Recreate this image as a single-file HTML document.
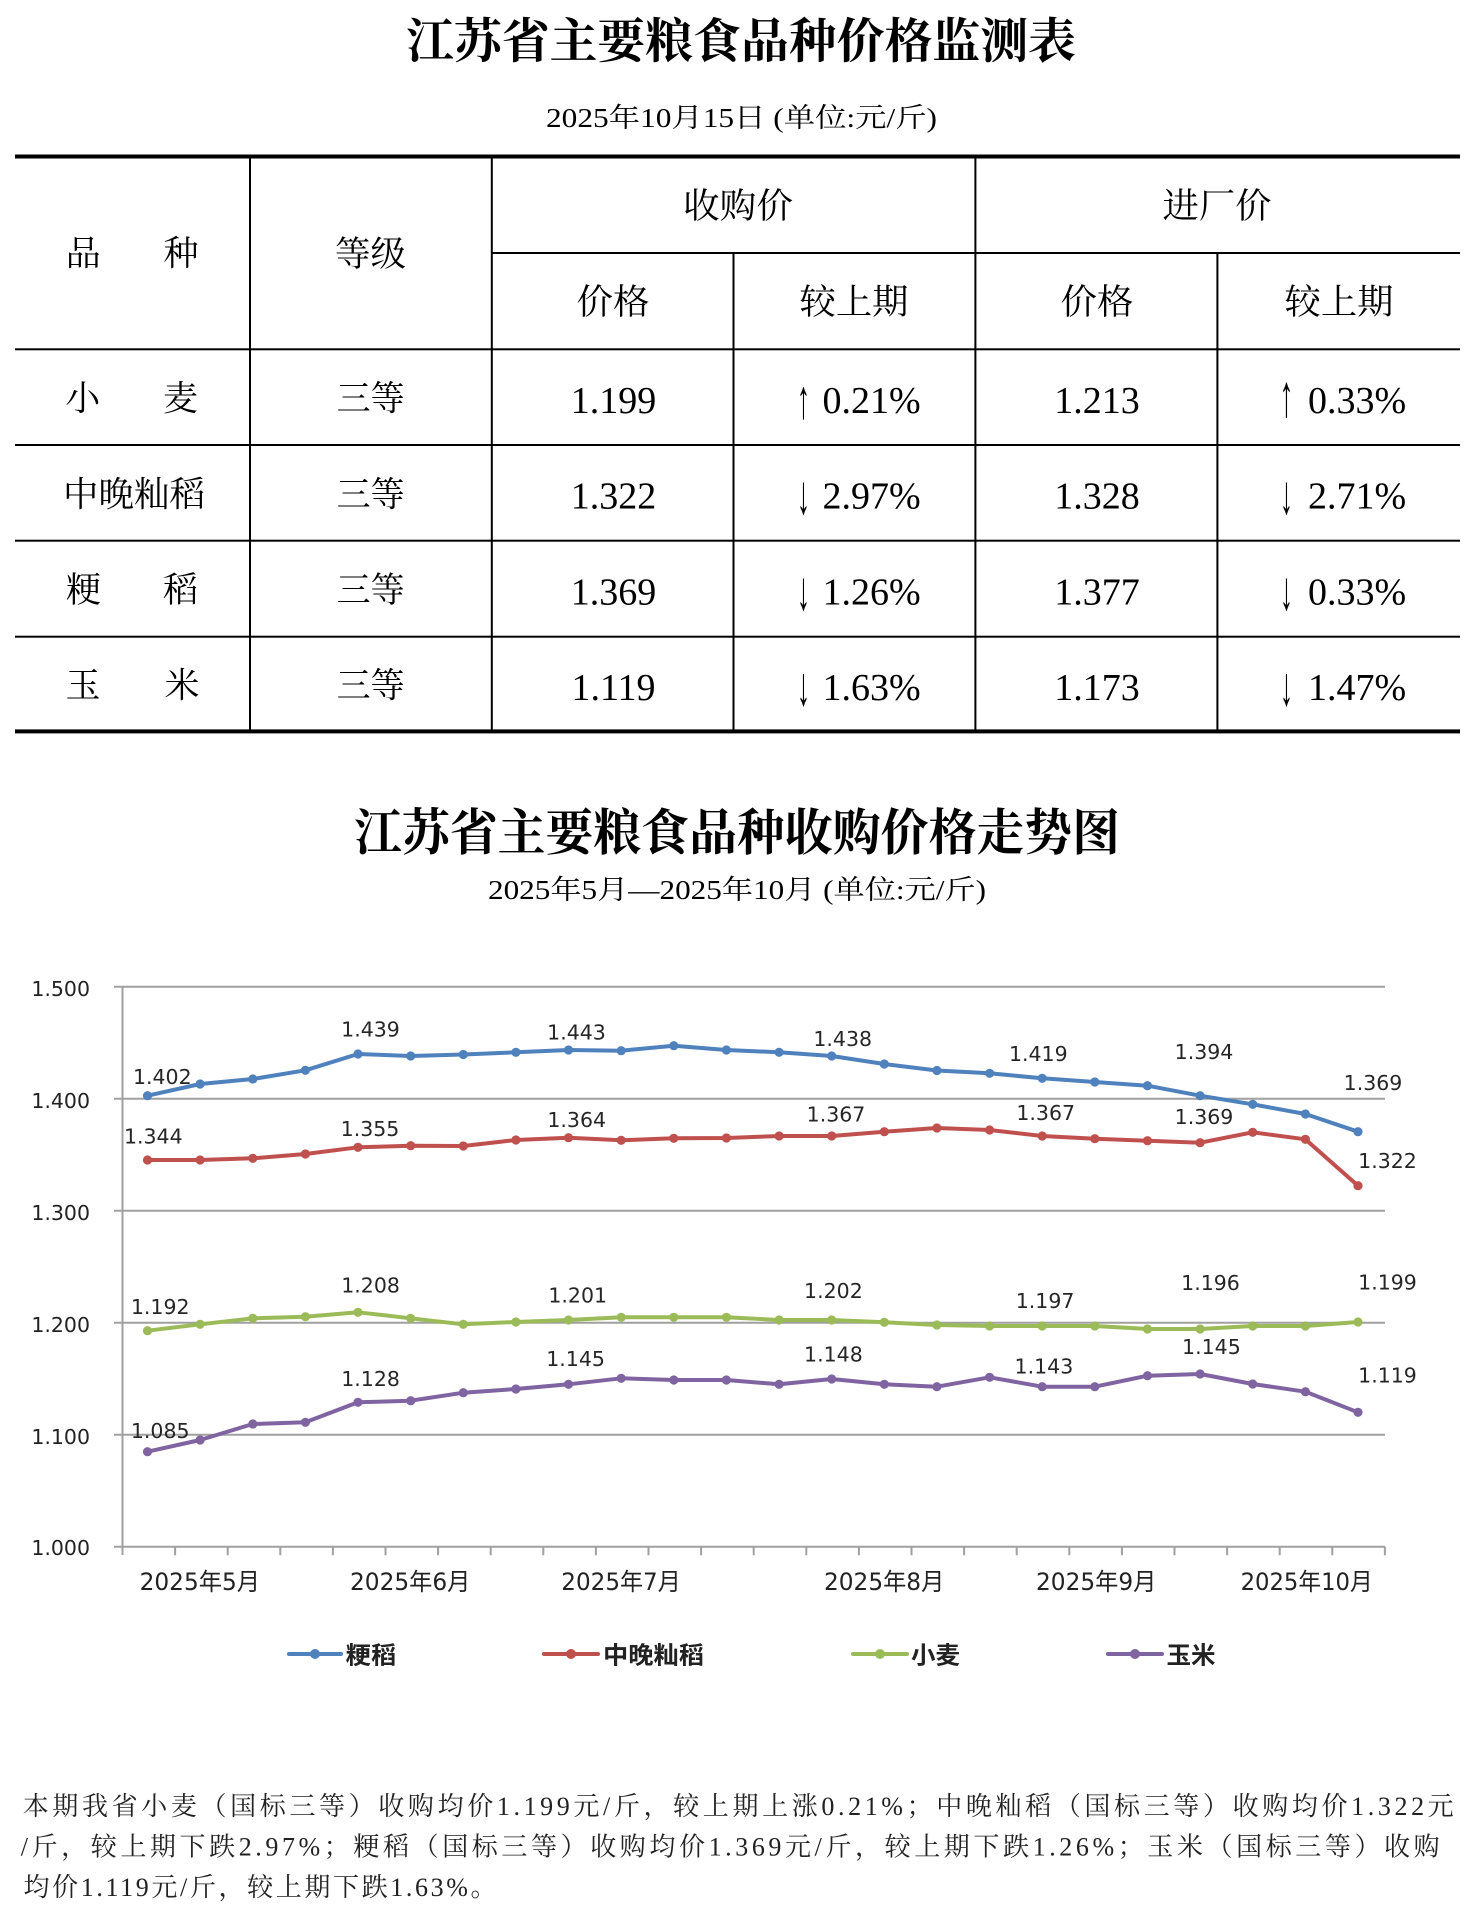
<!DOCTYPE html>
<html><head><meta charset="utf-8">
<style>html,body{margin:0;padding:0;background:#fff}svg{display:block}</style>
</head><body>
<svg width="1476" height="1915" viewBox="0 0 1476 1915" xmlns="http://www.w3.org/2000/svg">
<defs>
<marker id="mb" viewBox="0 0 10 10" refX="5" refY="5" markerWidth="10" markerHeight="10" markerUnits="userSpaceOnUse"><circle cx="5" cy="5" r="4.6" fill="#4F81BD"/></marker>
<marker id="mr" viewBox="0 0 10 10" refX="5" refY="5" markerWidth="10" markerHeight="10" markerUnits="userSpaceOnUse"><circle cx="5" cy="5" r="4.6" fill="#C0504D"/></marker>
<marker id="mg" viewBox="0 0 10 10" refX="5" refY="5" markerWidth="10" markerHeight="10" markerUnits="userSpaceOnUse"><circle cx="5" cy="5" r="4.6" fill="#9BBB59"/></marker>
<marker id="mp" viewBox="0 0 10 10" refX="5" refY="5" markerWidth="10" markerHeight="10" markerUnits="userSpaceOnUse"><circle cx="5" cy="5" r="4.6" fill="#8064A2"/></marker>
</defs>
<rect width="1476" height="1915" fill="#fff"/>

<!-- Titles -->
<g font-family="'Liberation Serif','Noto Serif CJK SC',serif" fill="#000">
<text x="406" y="57.5" font-size="48" font-weight="700" textLength="670" lengthAdjust="spacingAndGlyphs">江苏省主要粮食品种价格监测表</text>
<text x="546" y="127" font-size="27" textLength="391" lengthAdjust="spacingAndGlyphs">2025年10月15日 (单位:元/斤)</text>
</g>

<!-- Table lines -->
<g fill="#000">
<rect x="15" y="154.5" width="1445" height="4"/>
<rect x="15" y="729.4" width="1445" height="4"/>
<rect x="492" y="252" width="968" height="2"/>
<rect x="15" y="348.3" width="1445" height="2"/>
<rect x="15" y="444" width="1445" height="2"/>
<rect x="15" y="539.7" width="1445" height="2"/>
<rect x="15" y="635.7" width="1445" height="2"/>
<rect x="249" y="156" width="2" height="575"/>
<rect x="490.8" y="156" width="2" height="575"/>
<rect x="974.4" y="156" width="2" height="575"/>
<rect x="732.5" y="253" width="2" height="478"/>
<rect x="1216.4" y="253" width="2" height="478"/>
</g>

<!-- Table text -->
<g font-family="'Liberation Serif','Noto Serif CJK SC',serif" fill="#000" font-size="35" text-anchor="middle">
<text x="83.3" y="265.5">品</text><text x="181" y="265.5">种</text>
<text x="370.5" y="266" textLength="71" lengthAdjust="spacingAndGlyphs">等级</text>
<text x="738" y="218" textLength="110" lengthAdjust="spacingAndGlyphs">收购价</text>
<text x="1217" y="218" textLength="109" lengthAdjust="spacingAndGlyphs">进厂价</text>
<text x="613" y="314" textLength="73" lengthAdjust="spacingAndGlyphs">价格</text>
<text x="854" y="314" textLength="109" lengthAdjust="spacingAndGlyphs">较上期</text>
<text x="1097" y="314" textLength="73" lengthAdjust="spacingAndGlyphs">价格</text>
<text x="1339" y="314" textLength="109" lengthAdjust="spacingAndGlyphs">较上期</text>

<text x="82.8" y="410.7">小</text><text x="180.5" y="410.7">麦</text>
<text x="134" y="506.4" textLength="142" lengthAdjust="spacingAndGlyphs">中晚籼稻</text>
<text x="83.5" y="602.2">粳</text><text x="180.5" y="602.2">稻</text>
<text x="83" y="697.5">玉</text><text x="182" y="697.5">米</text>
<text x="370.6" y="410.7" textLength="68" lengthAdjust="spacingAndGlyphs">三等</text>
<text x="370.6" y="506.4" textLength="68" lengthAdjust="spacingAndGlyphs">三等</text>
<text x="370.6" y="602.2" textLength="68" lengthAdjust="spacingAndGlyphs">三等</text>
<text x="370.6" y="697.5" textLength="68" lengthAdjust="spacingAndGlyphs">三等</text>
</g>
<g font-family="'Liberation Serif',serif" fill="#000" font-size="38">
<g text-anchor="middle">
<text x="613.5" y="413">1.199</text>
<text x="613.5" y="508.7">1.322</text>
<text x="613.5" y="604.5">1.369</text>
<text x="613.5" y="699.8">1.119</text>
<text x="1097" y="413">1.213</text>
<text x="1097" y="508.7">1.328</text>
<text x="1097" y="604.5">1.377</text>
<text x="1097" y="699.8">1.173</text>
</g>
<g text-anchor="middle" font-size="55">
<text x="803.5" y="418" textLength="13" lengthAdjust="spacingAndGlyphs">↑</text>
<text x="803.5" y="513.7" textLength="13" lengthAdjust="spacingAndGlyphs">↓</text>
<text x="803.5" y="609.5" textLength="13" lengthAdjust="spacingAndGlyphs">↓</text>
<text x="803.5" y="704.8" textLength="13" lengthAdjust="spacingAndGlyphs">↓</text>
<text x="1286.5" y="416" font-size="60" textLength="14" lengthAdjust="spacingAndGlyphs">↑</text>
<text x="1286.5" y="513.7" textLength="13" lengthAdjust="spacingAndGlyphs">↓</text>
<text x="1286.5" y="609.5" textLength="13" lengthAdjust="spacingAndGlyphs">↓</text>
<text x="1286.5" y="704.8" textLength="13" lengthAdjust="spacingAndGlyphs">↓</text>
</g>
<text x="822.5" y="413">0.21%</text>
<text x="822.5" y="508.7">2.97%</text>
<text x="822.5" y="604.5">1.26%</text>
<text x="822.5" y="699.8">1.63%</text>
<text x="1308" y="413">0.33%</text>
<text x="1308" y="508.7">2.71%</text>
<text x="1308" y="604.5">0.33%</text>
<text x="1308" y="699.8">1.47%</text>
</g>

<!-- Chart titles -->
<g font-family="'Liberation Serif','Noto Serif CJK SC',serif" fill="#000">
<text x="354" y="850" font-size="50" font-weight="700" textLength="766" lengthAdjust="spacingAndGlyphs">江苏省主要粮食品种收购价格走势图</text>
<text x="488" y="899" font-size="27" textLength="498" lengthAdjust="spacingAndGlyphs">2025年5月—2025年10月 (单位:元/斤)</text>
</g>

<!-- Grid & axes -->
<g stroke="#a0a0a0" stroke-width="2" fill="none">
<path d="M114 986.7H1385M114 1098.7H1385M114 1210.7H1385M114 1322.7H1385M114 1434.7H1385M114 1546.7H1385"/>
<path d="M122.5 986.7V1555"/>
<path d="M175.1 1546.7v8.5M227.7 1546.7v8.5M280.3 1546.7v8.5M332.9 1546.7v8.5M385.5 1546.7v8.5M438.1 1546.7v8.5M490.7 1546.7v8.5M543.3 1546.7v8.5M595.9 1546.7v8.5M648.5 1546.7v8.5M701.1 1546.7v8.5M753.7 1546.7v8.5M806.3 1546.7v8.5M858.9 1546.7v8.5M911.5 1546.7v8.5M964.1 1546.7v8.5M1016.7 1546.7v8.5M1069.3 1546.7v8.5M1121.9 1546.7v8.5M1174.5 1546.7v8.5M1227.1 1546.7v8.5M1279.7 1546.7v8.5M1332.3 1546.7v8.5M1384.9 1546.7v8.5"/>
</g>

<!-- Y labels -->
<g font-family="'DejaVu Sans',sans-serif" font-size="20.5" fill="#222" text-anchor="end">
<text x="90" y="996.2">1.500</text>
<text x="90" y="1108.2">1.400</text>
<text x="90" y="1220.2">1.300</text>
<text x="90" y="1332.2">1.200</text>
<text x="90" y="1444.2">1.100</text>
<text x="90" y="1555">1.000</text>
</g>

<!-- X labels -->
<g font-family="'DejaVu Sans','Noto Sans CJK SC',sans-serif" font-size="24" fill="#222">
<text x="139.6" y="1590" textLength="120.4" lengthAdjust="spacingAndGlyphs">2025年5月</text>
<text x="350" y="1590" textLength="120.4" lengthAdjust="spacingAndGlyphs">2025年6月</text>
<text x="561.3" y="1590" textLength="119.5" lengthAdjust="spacingAndGlyphs">2025年7月</text>
<text x="824" y="1590" textLength="120.3" lengthAdjust="spacingAndGlyphs">2025年8月</text>
<text x="1036" y="1590" textLength="120.4" lengthAdjust="spacingAndGlyphs">2025年9月</text>
<text x="1240.6" y="1590" textLength="132.1" lengthAdjust="spacingAndGlyphs">2025年10月</text>
</g>

<!-- Series -->
<g fill="none" stroke-width="4" stroke-linejoin="round" stroke-linecap="round">
<polyline stroke="#4F81BD" marker-start="url(#mb)" marker-mid="url(#mb)" marker-end="url(#mb)" points="147.5,1095.7 200.1,1084 252.8,1079 305.4,1070.3 358,1054 410.7,1056 463.3,1054.5 515.9,1052.3 568.5,1050 621.2,1050.7 673.8,1045.7 726.4,1050 779.1,1052.3 831.7,1056 884.3,1064 936.9,1070.5 989.6,1073.3 1042.2,1078.3 1094.8,1082 1147.5,1085.7 1200.1,1095.7 1252.7,1104.3 1305.4,1114 1358,1131.7"/>
<polyline stroke="#C0504D" marker-start="url(#mr)" marker-mid="url(#mr)" marker-end="url(#mr)" points="147.5,1160 200.1,1160 252.8,1158.3 305.4,1154 358,1147.3 410.7,1145.7 463.3,1146 515.9,1140 568.5,1137.7 621.2,1140.3 673.8,1138.3 726.4,1138 779.1,1136 831.7,1136 884.3,1131.7 936.9,1128 989.6,1130 1042.2,1136 1094.8,1138.7 1147.5,1140.7 1200.1,1142.7 1252.7,1132.3 1305.4,1139.3 1358,1185.7"/>
<polyline stroke="#9BBB59" marker-start="url(#mg)" marker-mid="url(#mg)" marker-end="url(#mg)" points="147.5,1330.7 200.1,1324.3 252.8,1318.3 305.4,1316.7 358,1312.3 410.7,1318.3 463.3,1324.3 515.9,1322 568.5,1320 621.2,1317.3 673.8,1317.3 726.4,1317.3 779.1,1320 831.7,1320 884.3,1322.3 936.9,1325 989.6,1326 1042.2,1326 1094.8,1326 1147.5,1329 1200.1,1329 1252.7,1326 1305.4,1326 1358,1322"/>
<polyline stroke="#8064A2" marker-start="url(#mp)" marker-mid="url(#mp)" marker-end="url(#mp)" points="147.5,1451.7 200.1,1440 252.8,1424 305.4,1422.3 358,1402.3 410.7,1400.7 463.3,1392.7 515.9,1389 568.5,1384.3 621.2,1378.3 673.8,1380 726.4,1380 779.1,1384.3 831.7,1379 884.3,1384.3 936.9,1386.7 989.6,1377.3 1042.2,1386.7 1094.8,1386.7 1147.5,1375.7 1200.1,1374 1252.7,1384 1305.4,1391.7 1358,1412.3"/>
</g>

<!-- Data labels -->
<g font-family="'DejaVu Sans',sans-serif" font-size="20.5" fill="#262626" text-anchor="middle">
<text x="162.3" y="1084.2">1.402</text>
<text x="370.5" y="1036.5">1.439</text>
<text x="576.5" y="1039.3">1.443</text>
<text x="842.7" y="1045.8">1.438</text>
<text x="1038.3" y="1060.8">1.419</text>
<text x="1204" y="1059.2">1.394</text>
<text x="1373" y="1090">1.369</text>

<text x="153.3" y="1143.5">1.344</text>
<text x="370" y="1135.8">1.355</text>
<text x="576.7" y="1126.8">1.364</text>
<text x="836" y="1121.5">1.367</text>
<text x="1045.7" y="1119.8">1.367</text>
<text x="1204" y="1124.2">1.369</text>
<text x="1387.5" y="1168">1.322</text>

<text x="160.2" y="1314.2">1.192</text>
<text x="370.6" y="1292.5">1.208</text>
<text x="577.7" y="1302.5">1.201</text>
<text x="833.4" y="1298.2">1.202</text>
<text x="1045.1" y="1308.2">1.197</text>
<text x="1210.5" y="1290.2">1.196</text>
<text x="1387.5" y="1289.5">1.199</text>

<text x="160.2" y="1438.2">1.085</text>
<text x="370.6" y="1385.8">1.128</text>
<text x="575.6" y="1365.8">1.145</text>
<text x="833.4" y="1361.5">1.148</text>
<text x="1043.9" y="1373.5">1.143</text>
<text x="1211.4" y="1354.2">1.145</text>
<text x="1387.5" y="1382.5">1.119</text>
</g>

<!-- Legend -->
<g stroke-width="4" stroke-linecap="round">
<line x1="289" y1="1654" x2="341" y2="1654" stroke="#4F81BD"/>
<line x1="544" y1="1654" x2="598" y2="1654" stroke="#C0504D"/>
<line x1="853" y1="1654" x2="907" y2="1654" stroke="#9BBB59"/>
<line x1="1108" y1="1654" x2="1162" y2="1654" stroke="#8064A2"/>
</g>
<circle cx="315" cy="1654" r="5" fill="#4F81BD"/>
<circle cx="571" cy="1654" r="5" fill="#C0504D"/>
<circle cx="880" cy="1654" r="5" fill="#9BBB59"/>
<circle cx="1135" cy="1654" r="5" fill="#8064A2"/>
<g font-family="'Noto Sans CJK SC',sans-serif" font-size="24" font-weight="700" fill="#222">
<text x="345.8" y="1663.5" textLength="50.5" lengthAdjust="spacingAndGlyphs">粳稻</text>
<text x="603" y="1663.5" textLength="101" lengthAdjust="spacingAndGlyphs">中晚籼稻</text>
<text x="911" y="1663.5" textLength="49" lengthAdjust="spacingAndGlyphs">小麦</text>
<text x="1166.5" y="1663.5" textLength="49" lengthAdjust="spacingAndGlyphs">玉米</text>
</g>

<!-- Paragraph -->
<g font-family="'Liberation Serif','Noto Serif CJK SC',serif" font-size="26" fill="#222">
<text x="22.7" y="1815" textLength="1431" lengthAdjust="spacing">本期我省小麦（国标三等）收购均价1.199元/斤，较上期上涨0.21%；中晚籼稻（国标三等）收购均价1.322元</text>
<text x="20.7" y="1855.5" textLength="1419" lengthAdjust="spacing">/斤，较上期下跌2.97%；粳稻（国标三等）收购均价1.369元/斤，较上期下跌1.26%；玉米（国标三等）收购</text>
<text x="23.5" y="1896" textLength="473" lengthAdjust="spacing">均价1.119元/斤，较上期下跌1.63%。</text>
</g>
</svg>
</body></html>
